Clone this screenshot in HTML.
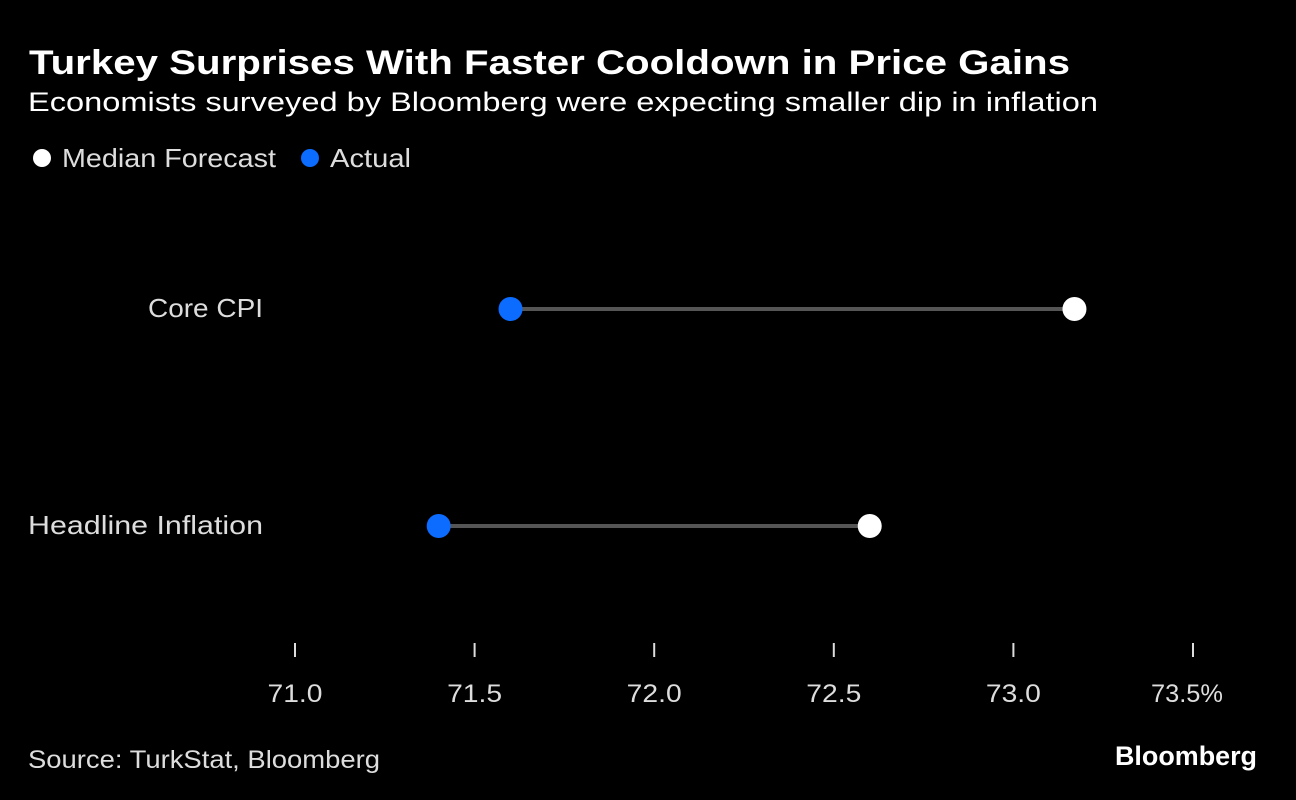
<!DOCTYPE html>
<html><head><meta charset="utf-8"><style>
html,body{margin:0;padding:0;background:#000;}
svg{display:block;font-family:"Liberation Sans",sans-serif;}
</style></head><body>
<svg id="chart" width="1296" height="800" viewBox="0 0 1296 800">
<rect width="1296" height="800" fill="#000"/>
<text x="29" y="74" fill="#fff" font-size="34" font-weight="bold" textLength="1041" lengthAdjust="spacingAndGlyphs">Turkey Surprises With Faster Cooldown in Price Gains</text>
<text x="28" y="111" fill="#fff" font-size="27" textLength="1070" lengthAdjust="spacingAndGlyphs">Economists surveyed by Bloomberg were expecting smaller dip in inflation</text>
<g>
<circle cx="42" cy="158" r="9" fill="#fff"/>
<text x="62" y="167" fill="#ddd" font-size="26" textLength="214" lengthAdjust="spacingAndGlyphs">Median Forecast</text>
<circle cx="310" cy="158" r="9" fill="#0b6cff"/>
<text x="330" y="167" fill="#ddd" font-size="26" textLength="81" lengthAdjust="spacingAndGlyphs">Actual</text>
</g>
<g id="plot"></g>
<text x="28" y="768" fill="#ddd" font-size="25" textLength="352" lengthAdjust="spacingAndGlyphs">Source: TurkStat, Bloomberg</text>
<text x="1257" y="765" fill="#fff" font-size="27" font-weight="bold" text-anchor="end" textLength="142" lengthAdjust="spacingAndGlyphs">Bloomberg</text>
</svg>
<script>
const categories = ["Core CPI", "Headline Inflation"];
const actualValues = [71.6, 71.4];
const forecastValues = [73.17, 72.6];
const tickValues = [71.0, 71.5, 72.0, 72.5, 73.0, 73.5];
const tickLabels = ["71.0", "71.5", "72.0", "72.5", "73.0", "73.5%"];

const NS = "http://www.w3.org/2000/svg";
const plot = document.getElementById("plot");
const x = v => 295 + (v - 71.0) * (1193 - 295) / 2.5;
const y = i => 309 + i * 217;
function mk(tag, attrs){const e=document.createElementNS(NS,tag);for(const k in attrs)e.setAttribute(k,attrs[k]);plot.appendChild(e);return e;}

tickValues.forEach((t,i)=>{
  const l = mk("line",{x1:x(t),x2:x(t),y1:643,y2:657,stroke:"#ddd","stroke-width":2});
  
  
  const last = i === tickValues.length - 1;
  const tx = mk("text",{x:last ? x(t)-6 : x(t),y:702,fill:"#ddd","font-size":25,"text-anchor":"middle"});
  tx.setAttribute("textLength", last ? 72 : 55);
  tx.setAttribute("lengthAdjust", "spacingAndGlyphs");
  tx.textContent = tickLabels[i];
  
  
});

categories.forEach((c,i)=>{
  const lab = mk("text",{x:263,y:y(i)+8,fill:"#ddd","font-size":26,"text-anchor":"end"});
  lab.setAttribute("textLength", i === 0 ? 115 : 235);
  lab.setAttribute("lengthAdjust", "spacingAndGlyphs");
  lab.textContent = c;
  
  
  const ln = mk("line",{x1:x(actualValues[i]),x2:x(forecastValues[i]),y1:y(i),y2:y(i),stroke:"#555","stroke-width":4});
  
  
  const a = mk("circle",{cx:x(actualValues[i]),cy:y(i),r:12,fill:"#0b6cff"});
  
  
  const f = mk("circle",{cx:x(forecastValues[i]),cy:y(i),r:12,fill:"#fff"});
  
  
});
</script>
</body></html>
